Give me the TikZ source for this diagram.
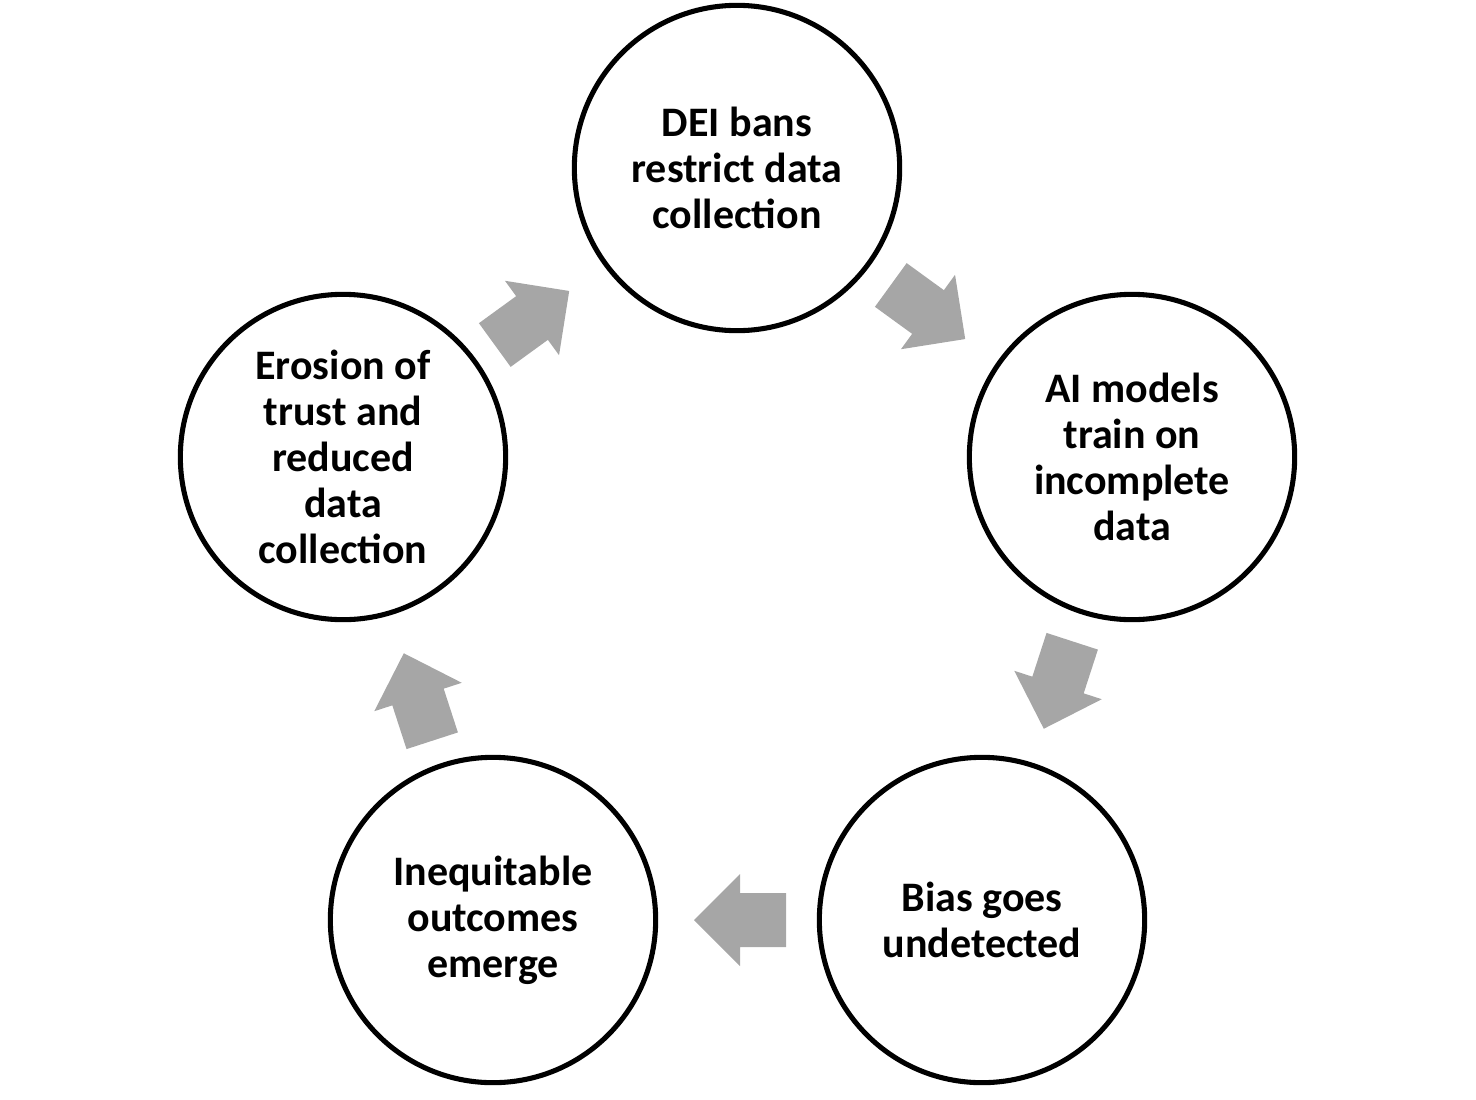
\documentclass[tikz,border=0pt]{standalone}
\usepackage{fontspec}
\setmainfont{Carlito}
\newcommand{\stageSize}{244pt}
\newcommand{\stageLineWidth}{3.8pt}
\definecolor{arrowGray}{HTML}{A6A6A6}
% block arrow centred at (#1,#2), pointing at angle #3
\newcommand{\flowArrow}[3]{%
  \fill[arrowGray, shift={(#1,#2)}, rotate=#3]
    (-46,-27) -- (0,-27) -- (0,-46) -- (46,0) -- (0,46) -- (0,27) -- (-46,27) -- cycle;}
\tikzset{
  stage/.style={circle, draw=black, line width=\stageLineWidth, minimum size=\stageSize,
    align=center, font=\fontsize{31.5}{34.5}\selectfont\bfseries}
}
\begin{document}
\begin{tikzpicture}[x=0.75pt, y=-0.75pt]
        \useasboundingbox (0,0) rectangle (1476,1099);
        % Stages of the cycle
        \node[stage] (ban) at (737,168) {DEI bans\\restrict data\\collection};
        \node[stage] (train) at (1132,457) {AI models\\train on\\incomplete\\data};
        \node[stage] (bias) at (982,920) {Bias goes\\undetected};
        \node[stage] (outcome) at (493,920) {Inequitable\\outcomes\\emerge};
        \node[stage] (trust) at (343,457) {Erosion of\\trust and\\reduced\\data\\collection};

        % Arrows between stages
        \flowArrow{928}{312}{-36}
        \flowArrow{1058}{685}{-108}
        \flowArrow{740}{920}{180}
        \flowArrow{418}{697}{108}
        \flowArrow{532}{318}{36}
    \end{tikzpicture}
\end{document}
